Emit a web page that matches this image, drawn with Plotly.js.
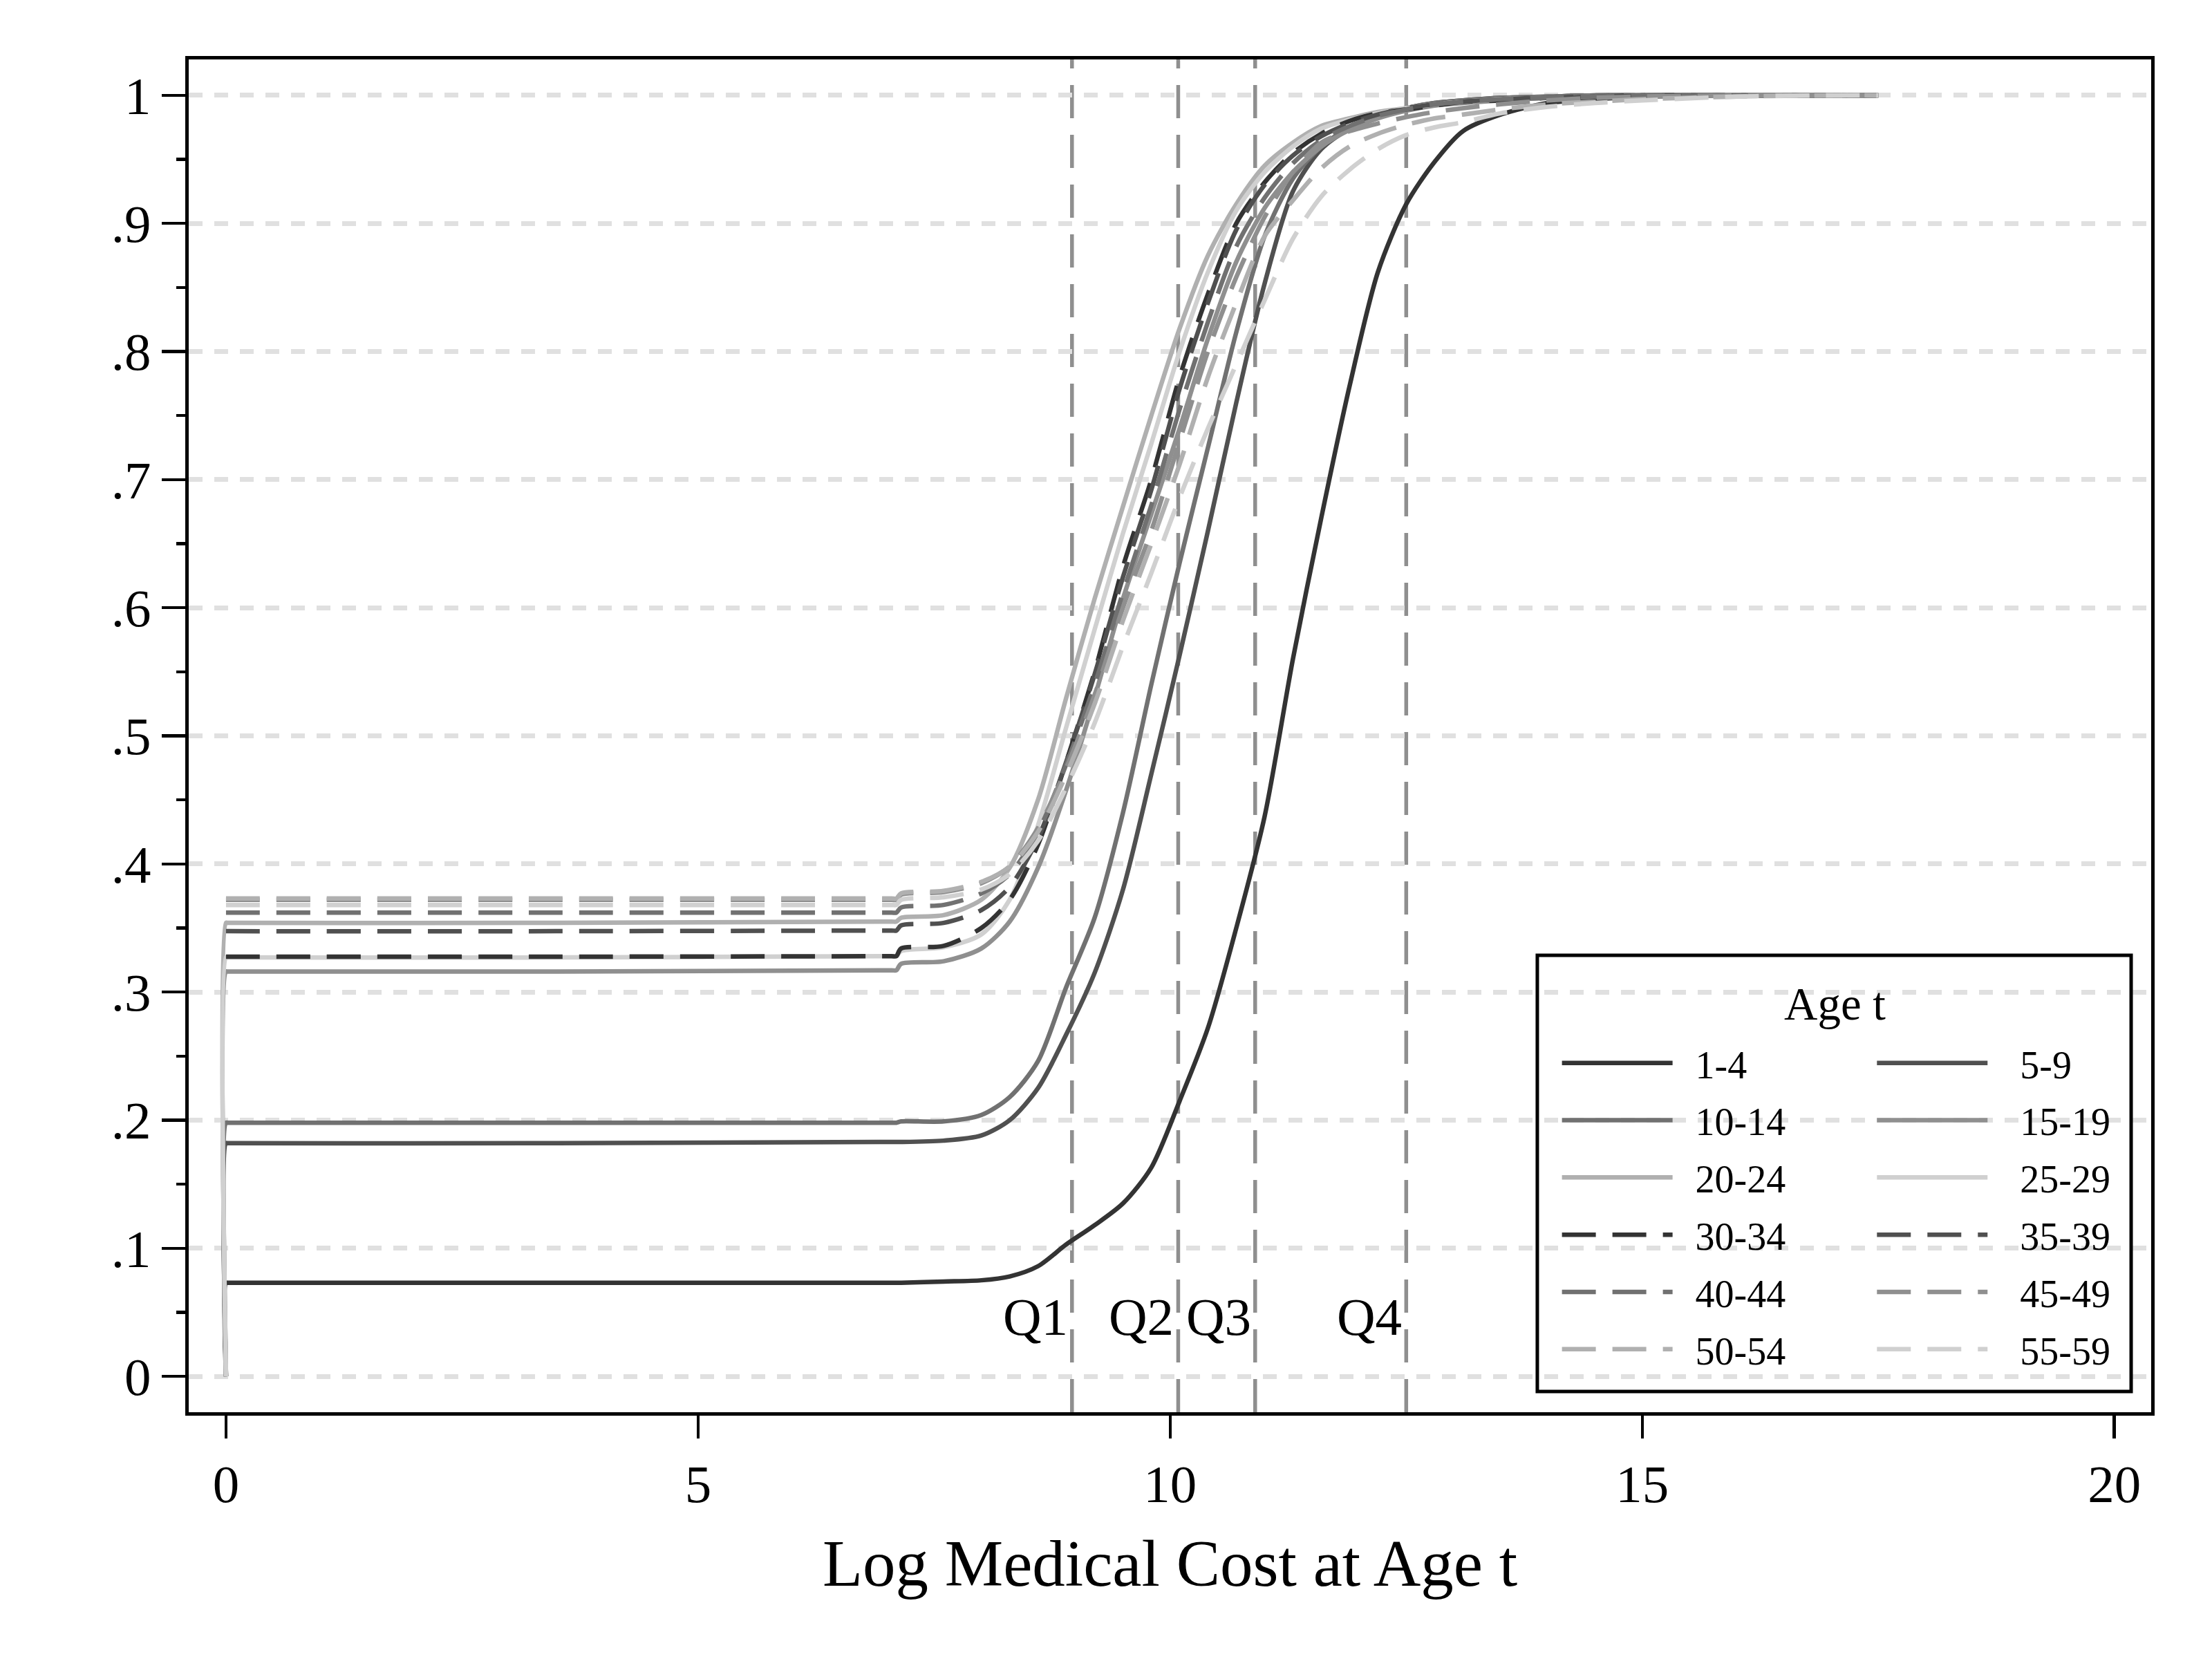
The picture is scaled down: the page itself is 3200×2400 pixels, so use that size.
<!DOCTYPE html>
<html>
<head>
<meta charset="utf-8">
<script src="https://cdn.plot.ly/plotly-3.0.1.min.js"></script>
<style>
  body { margin: 0; background: #fff; }
  #chart { width: 3200px; height: 2400px; }
</style>
</head>
<body>
<div id="chart"></div>
<script>
// x grid (log medical cost) shared by all age groups
var xGrid = [0, 0, 0.02, 3.5, 7.05, 7.1, 7.15, 7.6, 8.0, 8.3, 8.6, 8.9, 9.2, 9.5, 9.8, 10.1, 10.4, 10.7,
  11.0, 11.3, 11.6, 11.9, 12.2, 12.5, 12.8, 13.1, 13.5, 14.0, 14.5, 15.0, 16.0, 17.1, 17.5];

// cumulative share by age group
// (dashed groups start at their x=0 level, no vertical jump drawn)
var age1_4   = [0, 0.073, 0.073, 0.073, 0.073, 0.073, 0.073, 0.074, 0.075, 0.078, 0.086, 0.103, 0.118, 0.135, 0.163, 0.215, 0.272, 0.35,
  0.437, 0.56, 0.67, 0.773, 0.862, 0.915, 0.948, 0.972, 0.985, 0.994, 0.997, 0.999, 1.0, 1.0, null];
var age5_9   = [0, 0.182, 0.182, 0.182, 0.183, 0.183, 0.183, 0.184, 0.188, 0.2, 0.225, 0.267, 0.315, 0.38, 0.47, 0.563, 0.66, 0.76,
  0.853, 0.925, 0.958, 0.974, 0.984, 0.99, 0.994, 0.996, 0.998, 0.999, 1.0, 1.0, 1.0, 1.0, 1.0];
var age10_14 = [0, 0.198, 0.198, 0.198, 0.198, 0.198, 0.199, 0.199, 0.204, 0.218, 0.246, 0.304, 0.358, 0.44, 0.54, 0.635, 0.725, 0.815,
  0.89, 0.935, 0.96, 0.975, 0.984, 0.99, 0.994, 0.996, 0.998, 0.999, 1.0, 1.0, 1.0, 1.0, 1.0];
var age15_19 = [0, 0.316, 0.316, 0.316, 0.317, 0.317, 0.322, 0.324, 0.334, 0.355, 0.397, 0.458, 0.53, 0.607, 0.673, 0.74, 0.81, 0.87,
  0.912, 0.94, 0.96, 0.973, 0.982, 0.988, 0.992, 0.994, 0.996, 0.998, 0.999, 1.0, 1.0, 1.0, 1.0];
var age20_24 = [0, 0.354, 0.354, 0.354, 0.355, 0.355, 0.358, 0.36, 0.372, 0.397, 0.45, 0.53, 0.607, 0.679, 0.75, 0.818, 0.875, 0.915,
  0.945, 0.963, 0.976, 0.982, 0.987, 0.99, 0.993, 0.995, 0.997, 0.998, 0.999, 1.0, 1.0, 1.0, 1.0];
var age25_29 = [0, 0.327, 0.327, 0.327, 0.328, 0.328, 0.332, 0.335, 0.345, 0.372, 0.43, 0.507, 0.583, 0.658, 0.728, 0.80, 0.862, 0.91,
  0.94, 0.96, 0.974, 0.981, 0.986, 0.99, 0.993, 0.995, 0.997, 0.998, 0.999, 1.0, 1.0, 1.0, 1.0];
var age30_34 = [null, 0.3276, 0.3276, 0.3276, 0.328, 0.328, 0.334, 0.336, 0.35, 0.372, 0.415, 0.48, 0.55, 0.632, 0.70, 0.78, 0.845, 0.9,
  0.932, 0.955, 0.97, 0.98, 0.986, 0.989, 0.992, 0.995, 0.996, 0.998, 0.999, 1.0, 1.0, 1.0, 1.0];
var age35_39 = [null, 0.3475, 0.3475, 0.3475, 0.348, 0.348, 0.352, 0.354, 0.364, 0.382, 0.42, 0.48, 0.548, 0.624, 0.692, 0.771, 0.838, 0.895,
  0.93, 0.953, 0.968, 0.978, 0.985, 0.99, 0.993, 0.995, 0.997, 0.998, 0.999, 1.0, 1.0, 1.0, 1.0];
var age40_44 = [null, 0.362, 0.362, 0.362, 0.362, 0.362, 0.366, 0.368, 0.377, 0.392, 0.425, 0.478, 0.54, 0.612, 0.68, 0.755, 0.823, 0.882,
  0.92, 0.947, 0.965, 0.976, 0.984, 0.989, 0.993, 0.995, 0.997, 0.998, 0.999, 1.0, 1.0, 1.0, 1.0];
var age45_49 = [null, 0.372, 0.372, 0.372, 0.372, 0.372, 0.376, 0.378, 0.385, 0.398, 0.428, 0.475, 0.532, 0.60, 0.66, 0.73, 0.80, 0.858,
  0.905, 0.94, 0.963, 0.972, 0.978, 0.983, 0.987, 0.99, 0.993, 0.996, 0.998, 0.999, 1.0, 1.0, 1.0];
var age50_54 = [null, 0.373, 0.373, 0.373, 0.373, 0.373, 0.377, 0.379, 0.386, 0.398, 0.425, 0.47, 0.525, 0.59, 0.65, 0.712, 0.78, 0.838,
  0.89, 0.918, 0.943, 0.96, 0.97, 0.977, 0.982, 0.985, 0.989, 0.993, 0.995, 0.997, 0.999, 1.0, 1.0];
var age55_59 = [null, 0.368, 0.368, 0.368, 0.368, 0.368, 0.372, 0.374, 0.38, 0.392, 0.418, 0.46, 0.51, 0.57, 0.627, 0.686, 0.74, 0.79,
  0.84, 0.888, 0.921, 0.942, 0.958, 0.969, 0.975, 0.979, 0.986, 0.991, 0.994, 0.996, 0.999, 1.0, 1.0];

var ageLabels = ["1-4", "5-9", "10-14", "15-19", "20-24", "25-29",
  "30-34", "35-39", "40-44", "45-49", "50-54", "55-59"];
var ageSeries = [age1_4, age5_9, age10_14, age15_19, age20_24, age25_29,
  age30_34, age35_39, age40_44, age45_49, age50_54, age55_59];

// quartile cut points
var qValues = [8.96, 10.085, 10.9, 12.5];
var qLabels = ["Q1", "Q2", "Q3", "Q4"];

var yTickVals = [0, 0.1, 0.2, 0.3, 0.4, 0.5, 0.6, 0.7, 0.8, 0.9, 1];
var yTickText = ["0", ".1", ".2", ".3", ".4", ".5", ".6", ".7", ".8", ".9", "1"];
var xTickVals = [0, 5, 10, 15, 20];

var greys = ["#333333", "#505050", "#717171", "#8f8f8f", "#b0b0b0", "#d0d0d0"];
var serif = "Liberation Serif, Times New Roman, serif";

var data = ageSeries.map(function (ys, i) {
  var leftCol = i % 2 === 0;
  return {
    type: "scatter",
    mode: "lines",
    x: xGrid,
    y: ys,
    // no-break spaces keep the label clear of the key line
    name: (leftCol ? "\u00a0\u00a0" : "\u00a0\u00a0\u00a0") + ageLabels[i],
    legendgroup: ageLabels[i],
    legend: leftCol ? "legend" : "legend2",
    connectgaps: false,
    line: {
      color: greys[i % 6],
      width: 6.5,
      shape: "spline",
      smoothing: 0.8,
      dash: i < 6 ? "solid" : "49px,24px"
    },
    hoverinfo: "skip"
  };
});

var shapes = qValues.map(function (q) {
  return {
    type: "line", xref: "x", yref: "paper",
    x0: q, x1: q, y0: 0, y1: 1,
    line: { color: "#8f8f8f", width: 5.5, dash: "48px,24px" },
    layer: "below"
  };
});
// legend frame
shapes.push({
  type: "rect", xref: "paper", yref: "paper",
  x0: 0.6872, x1: 0.9898, y0: 0.0153, y1: 0.3378,
  line: { color: "#000", width: 5 }, fillcolor: "rgba(0,0,0,0)", layer: "above"
});

var annotations = qValues.map(function (q, i) {
  return {
    x: q, y: 0.0464, xref: "x", yref: "y",
    text: qLabels[i], showarrow: false,
    xanchor: "right", yanchor: "middle", xshift: -4,
    font: { family: serif, size: 77, color: "#000" }
  };
});
annotations.push({
  x: 0.839, y: 0.302, xref: "paper", yref: "paper",
  text: "Age t", showarrow: false, xanchor: "center", yanchor: "middle",
  font: { family: serif, size: 67, color: "#000" }
});

var legendBase = {
  orientation: "v",
  xanchor: "left", yanchor: "top",
  y: 0.2801,
  bgcolor: "rgba(0,0,0,0)",
  borderwidth: 0,
  itemwidth: 160,
  tracegroupgap: 7,
  font: { family: serif, size: 56, color: "#000" }
};

var layout = {
  width: 3200,
  height: 2400,
  margin: { l: 273, r: 88, t: 86, b: 357 },
  paper_bgcolor: "#fff",
  plot_bgcolor: "#fff",
  font: { family: serif, color: "#000" },
  showlegend: true,
  legend: Object.assign({}, legendBase, { x: 0.698 }),
  legend2: Object.assign({}, legendBase, { x: 0.8585 }),
  xaxis: {
    range: [-0.395, 20.39],
    tickmode: "array",
    tickvals: xTickVals,
    ticks: "outside", ticklen: 33, tickwidth: 4.5, tickcolor: "#000",
    showline: true, linewidth: 5, linecolor: "#000", mirror: true,
    showgrid: false, zeroline: false,
    tickfont: { family: serif, size: 77, color: "#000" },
    title: { text: "Log Medical Cost at Age t", font: { family: serif, size: 95, color: "#000" }, standoff: 40 }
  },
  yaxis: {
    range: [-0.028, 1.028],
    tickmode: "array",
    tickvals: yTickVals,
    ticktext: yTickText,
    ticks: "outside", ticklen: 34, tickwidth: 4.5, tickcolor: "#000",
    minor: { tickmode: "linear", tick0: 0, dtick: 0.05, ticks: "outside", ticklen: 13, tickwidth: 4.5, tickcolor: "#000", showgrid: false },
    showline: true, linewidth: 5, linecolor: "#000", mirror: true,
    showgrid: true, gridcolor: "#e0e0e0", gridwidth: 7, griddash: "20px,17px",
    zeroline: false,
    tickfont: { family: serif, size: 77, color: "#000" }
  },
  shapes: shapes,
  annotations: annotations
};

Plotly.newPlot("chart", data, layout, { staticPlot: true });
</script>
</body>
</html>
